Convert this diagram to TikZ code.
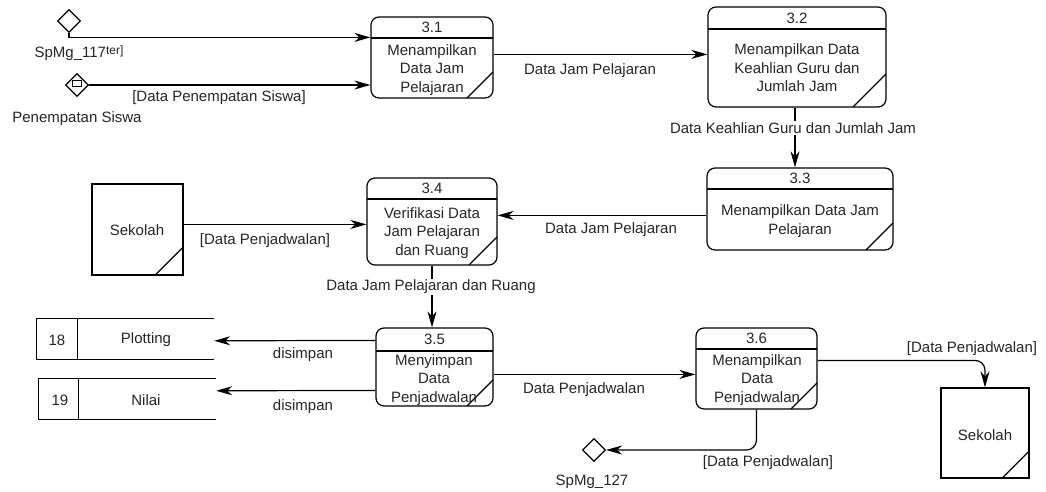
\documentclass[tikz,border=0pt]{standalone}
\usepackage{fontspec}
\setmainfont{Liberation Sans}
\usetikzlibrary{arrows.meta,shapes.geometric,fit,calc}
\newcommand\dfdproc[8]{%
  \node[procbox, fit={(#2,#3) (#4,#5)}] (#1) {};
  \draw[edgeline] (#2,#6) -- (#4,#6);
  \node (#1n) at ({(#2+#4)/2},{(#3+#6)/2}) {#7};
  \draw[edgeline] ({#4-#8},#5) -- (#4,{#5-#8});
}
\begin{document}
\begin{tikzpicture}[x=1pt,y=-1pt,
  every node/.style={font=\fontsize{15}{18.5}\selectfont, inner sep=0pt, text=black!85},
  procbox/.style={draw, rounded corners=8pt, line width=1.2pt, inner sep=0pt},
  flow/.style={line width=1.2pt, -{Stealth[length=16pt,width=9pt,inset=5pt]}},
  edgeline/.style={line width=1.2pt},
  lbl/.style={align=center},
  dmd/.style={draw, diamond, line width=1.2pt, minimum width=23pt, minimum height=23pt, inner sep=0pt},
]
\useasboundingbox (0,0) rectangle (1046,492);

% processes
\dfdproc{p31}{371}{17}{493}{98}{38}{3.1}{26}
\dfdproc{p32}{708}{7}{886}{107}{29}{3.2}{33}
\dfdproc{p33}{707}{168}{893}{250}{189}{3.3}{27}
\dfdproc{p34}{367}{178}{497}{265}{199}{3.4}{28}
\dfdproc{p35}{376}{328}{493}{406}{351}{3.5}{26}
\dfdproc{p36}{696}{328}{817}{409}{349}{3.6}{26}

\node[lbl] (p31t) at (432,70) {Menampilkan\\Data Jam\\Pelajaran};
\node[lbl] (p32t) at (797,68) {Menampilkan Data\\Keahlian Guru dan\\Jumlah Jam};
\node[lbl] (p33t) at (800,221) {Menampilkan Data Jam\\Pelajaran};
\node[lbl] (p34t) at (432,233) {Verifikasi Data\\Jam Pelajaran\\dan Ruang};
\node[lbl] (p35t) at (434,380) {Menyimpan\\Data\\Penjadwalan};
\node[lbl] (p36t) at (757,380) {Menampilkan\\Data\\Penjadwalan};

% externals
\node[draw, line width=1.2pt, fit={(92,184) (183,275)}] (sek1) {};
\node (sek1t) at (137,230) {Sekolah};
\draw[edgeline] ($(sek1.south east)+(-29,0)$) -- ($(sek1.south east)+(0,-29)$);
\node[draw, line width=1.2pt, fit={(941,388) (1029,478)}] (sek2) {};
\node (sek2t) at (985,435) {Sekolah};
\draw[edgeline] ($(sek2.south east)+(-28,0)$) -- ($(sek2.south east)+(0,-28)$);

% data stores
\node[fit={(37,319) (214,359)}] (st18) {};
\draw[edgeline] (st18.north east) -- (st18.north west) -- (st18.south west) -- (st18.south east);
\draw[edgeline] ($(st18.north west)+(41,0)$) -- ($(st18.south west)+(41,0)$);
\node (st18n) at (57,340) {18};
\node (st18t) at (146,340) {Plotting};
\node[fit={(39,379) (216,419)}] (st19) {};
\draw[edgeline] (st19.north east) -- (st19.north west) -- (st19.south west) -- (st19.south east);
\draw[edgeline] ($(st19.north west)+(40,0)$) -- ($(st19.south west)+(40,0)$);
\node (st19n) at (60,400) {19};
\node (st19t) at (146,400) {Nilai};

% diamonds
\node[dmd] (d1) at (69,21) {};
\node[dmd] (d2) at (77,85) {};
\node[draw, line width=1.0pt, minimum width=9pt, minimum height=6pt] (d2r) at ($(d2.center)+(0,-1)$) {};
\node[dmd] (d3) at (594,450) {};

% connectors
\draw[flow] (d1.south) |- ($(p31.north west)+(0,21)$);
\draw[flow] (d2.east) -- (d2.east -| p31.west);
\draw[flow] ($(p31.north east)+(0,38)$) -- ($(p32.north west)+(0,48)$);
\draw[flow] ($(p32.south)+(-2,0)$) -- ($(p33.north)+(-5,0)$);
\draw[flow] ($(p33.north west)+(0,48)$) -- ($(p34.north east)+(0,38)$);
\draw[flow] ($(sek1.north east)+(0,41)$) -- ($(p34.north west)+(0,47)$);
\draw[flow] (p34.south) -- (p34.south |- p35.north);
\draw[flow] ($(p35.north west)+(0,13)$) -- ($(st18.north east)+(0,22)$);
\draw[flow] ($(p35.north west)+(0,63)$) -- ($(st19.north east)+(0,12)$);
\draw[flow] ($(p35.north east)+(0,47)$) -- ($(p36.north west)+(0,47)$);
\draw[flow, rounded corners=10pt] ($(p36.north east)+(0,33)$) -| (sek2.north);
\draw[flow, rounded corners=10pt] (p36.south) |- (d3.east);

% labels
\node (l1) at (79,53) {SpMg\_117\raisebox{2.5pt}{\fontsize{12}{12}\selectfont ter]}};
\node (l2) at (219,98) {[Data Penempatan Siswa]};
\node (l3) at (77,119) {Penempatan Siswa};
\node (l4) at (590,71) {Data Jam Pelajaran};
\node[fill=white, inner ysep=1pt] (l5) at (793,128) {Data Keahlian Guru dan Jumlah Jam};
\node (l6) at (611,230) {Data Jam Pelajaran};
\node (l7) at (265,241) {[Data Penjadwalan]};
\node[fill=white, inner ysep=1pt] (l8) at (431,287) {Data Jam Pelajaran dan Ruang};
\node (l9) at (303,355) {disimpan};
\node (l10) at (303,407) {disimpan};
\node (l11) at (584,390) {Data Penjadwalan};
\node (l12) at (972,349) {[Data Penjadwalan]};
\node (l13) at (768,463) {[Data Penjadwalan]};
\node (l14) at (592,482) {SpMg\_127};
\end{tikzpicture}
\end{document}
